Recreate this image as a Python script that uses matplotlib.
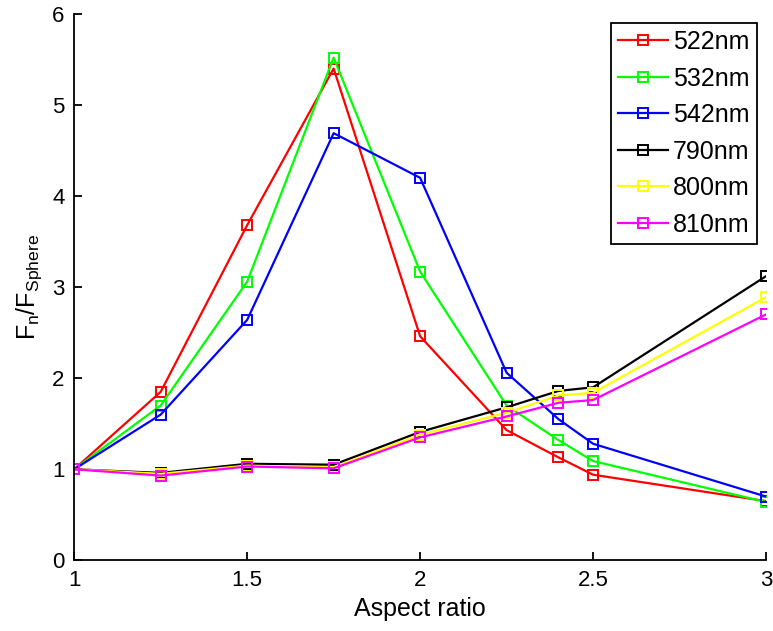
import matplotlib.pyplot as plt

plt.rcParams['font.family'] = ['Liberation Sans', 'DejaVu Sans']

aspect = [1, 1.25, 1.5, 1.75, 2, 2.25, 2.4, 2.5, 3]

f522 = [1.0, 1.85, 3.68, 5.40, 2.46, 1.43, 1.13, 0.94, 0.65]
f532 = [1.0, 1.70, 3.06, 5.52, 3.17, 1.70, 1.32, 1.09, 0.64]
f542 = [1.0, 1.60, 2.64, 4.69, 4.20, 2.06, 1.55, 1.28, 0.70]
f790 = [1.0, 0.96, 1.06, 1.05, 1.41, 1.68, 1.86, 1.90, 3.12]
f800 = [1.0, 0.95, 1.04, 1.02, 1.38, 1.62, 1.81, 1.84, 2.89]
f810 = [1.0, 0.93, 1.03, 1.01, 1.35, 1.58, 1.73, 1.76, 2.70]

series = [f522, f532, f542, f790, f800, f810]
labels = ['522nm', '532nm', '542nm', '790nm', '800nm', '810nm']
colors = ['#ff0000', '#00ff00', '#0000ff', '#000000', '#ffff00', '#ff00ff']

fig = plt.figure(figsize=(7.73, 6.31), dpi=100)
ax = fig.add_axes([0.096, 0.112, 0.895, 0.866])

for y, lab, c in zip(series, labels, colors):
    ax.plot(aspect, y, '-s', color=c, label=lab, lw=1.6, ms=6.5,
            mfc='none', mec=c, mew=1.4)

ax.set_xlim(1, 3)
ax.set_ylim(0, 6)
ax.set_xticks([1, 1.5, 2, 2.5, 3])
ax.set_xticklabels(['1', '1.5', '2', '2.5', '3'])
ax.set_yticks(range(7))
ax.spines['top'].set_visible(False)
ax.spines['right'].set_visible(False)
ax.spines['left'].set_linewidth(1.3)
ax.spines['bottom'].set_linewidth(1.3)
ax.tick_params(direction='in', length=6, width=1.3, labelsize=16, pad=7)

ax.set_xlabel('Aspect ratio', fontsize=18, labelpad=4)
ax.set_ylabel(r'$\mathregular{F_n/F_{Sphere}}$', fontsize=18, labelpad=6)

leg = ax.legend(loc='upper right', fontsize=18, handlelength=2.0,
                fancybox=False, framealpha=1, edgecolor='black',
                borderaxespad=0.35, labelspacing=0.5, handletextpad=0.2,
                borderpad=0.3)
leg.get_frame().set_linewidth(1.3)

fig.savefig('out.png', dpi=100)
